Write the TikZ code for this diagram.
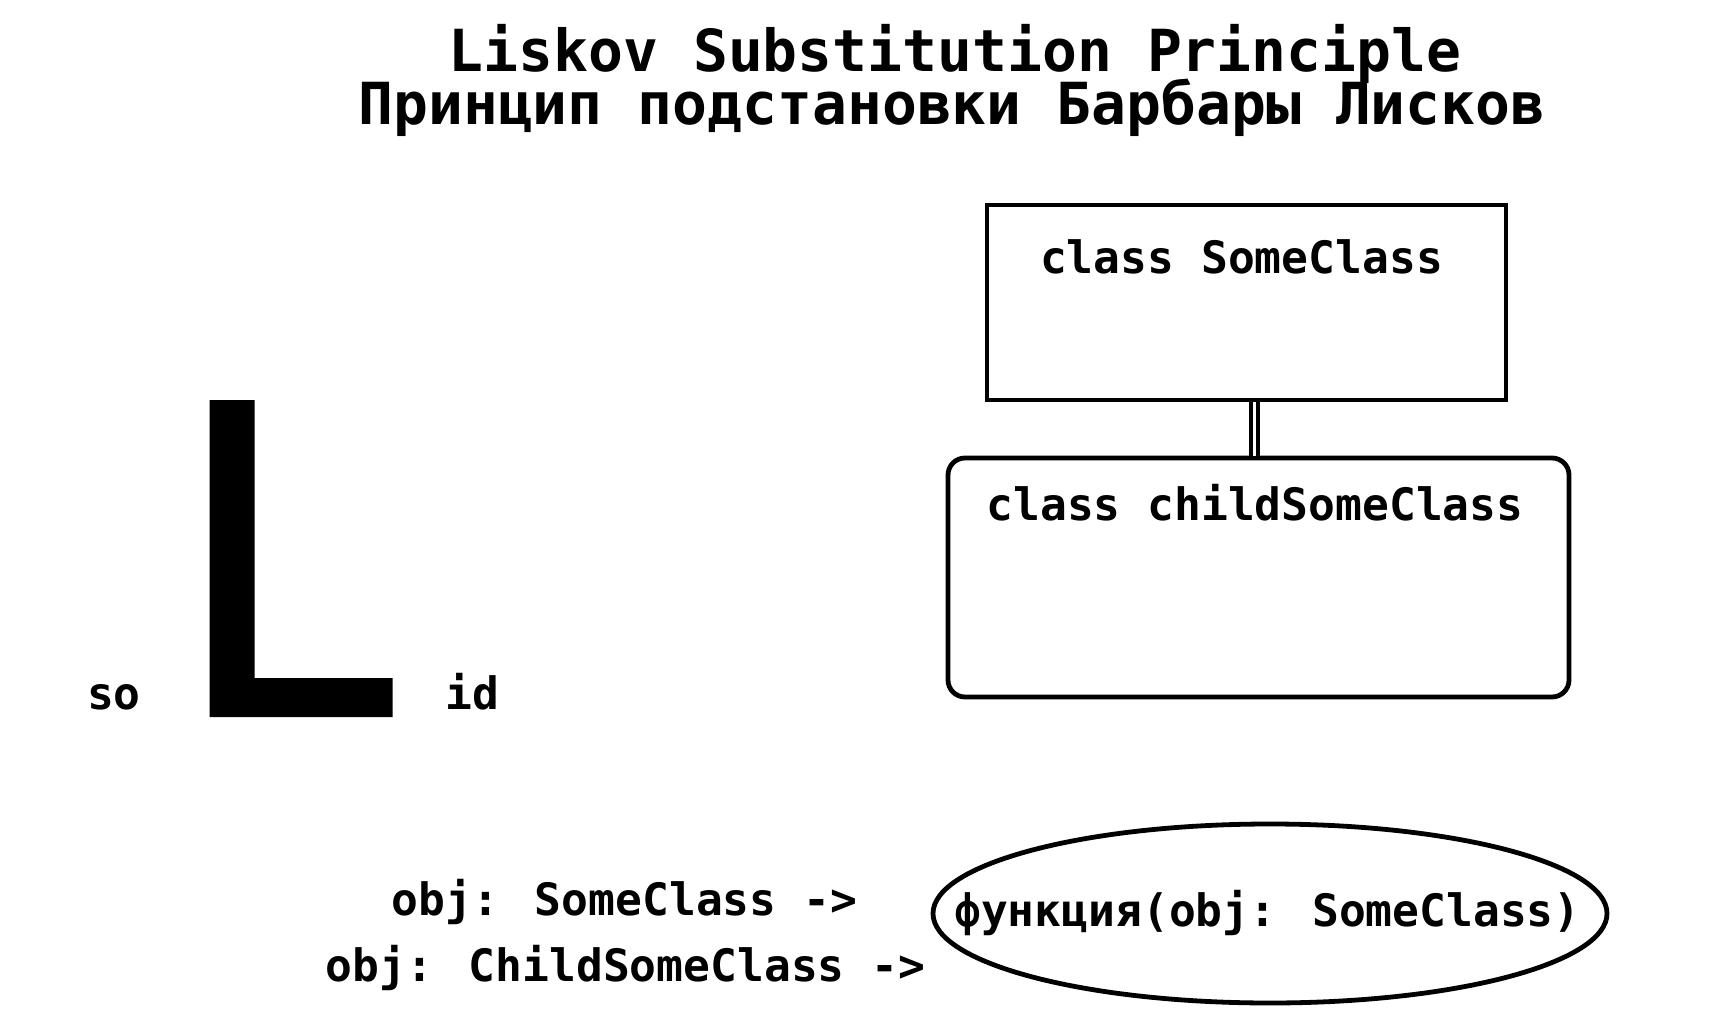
\documentclass[tikz,border=0pt]{standalone}
\usepackage{fontspec}
\newfontfamily\dvm{DejaVu Sans Mono}[BoldFont={DejaVu Sans Mono Bold}]
\usetikzlibrary{shapes.geometric}
\begin{document}
\begin{tikzpicture}[x=0.5pt,y=-0.5pt,
  titletext/.style={inner sep=0pt, anchor=base, font=\dvm\bfseries\fontsize{29}{34}\selectfont},
  bodytext/.style={inner sep=0pt, anchor=base, font=\dvm\bfseries\fontsize{22.3}{26}\selectfont},
  classbox/.style={draw=black, line width=2.4pt, inner sep=0pt},
  inherit/.style={draw=black, line width=2pt, double=white, double distance=1.5pt},
  funcell/.style={ellipse, draw=black, line width=2.4pt, inner sep=0pt}
]
\fill[white] (0,0) rectangle (1729,1032);
\useasboundingbox (0,0) rectangle (1729,1032);

% titles
\node[titletext] (t1) at (955,72) {Liskov Substitution Principle};
\node[titletext] (t2) at (952,125) {Принцип подстановки Барбары Лисков};

% class boxes
\node[classbox, minimum width=259.5pt, minimum height=97.5pt] (sc) at (1246.5,302.5) {};
\node[bodytext] (sct) at (1241.5,273) {class SomeClass};
\node[classbox, rounded corners=8.5pt, minimum width=310.5pt, minimum height=119.5pt] (child) at (1258.5,577.5) {};
\node[bodytext] (childt) at (1255,520) {class childSomeClass};
\draw[inherit] (sc.south -| 1254,0) -- (child.north -| 1254,0);

% big L
\fill[black] (209.5,400) -- (254.7,400) -- (254.7,678) -- (392.6,678) -- (392.6,717) -- (209.5,717) -- cycle;
\node[bodytext] (so) at (114,709) {so};
\node[bodytext] (id) at (472,709) {id};

% bottom
\node[bodytext] (a1) at (624.5,915) {obj: SomeClass ->};
\node[bodytext] (a2) at (625.5,981) {obj: ChildSomeClass ->};
\node[funcell, minimum width=337pt, minimum height=89.5pt] (fn) at (1270,913.5) {};
\node[bodytext] (fnt) at (1267.5,926) {функция(obj: SomeClass)};
\end{tikzpicture}
\end{document}
